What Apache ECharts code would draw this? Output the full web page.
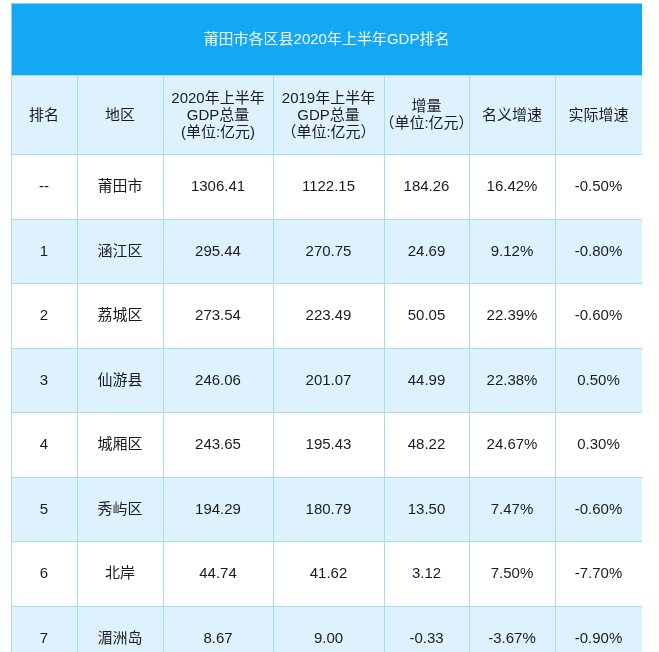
<!DOCTYPE html>
<html>
<head>
<meta charset="utf-8">
<script src="https://cdn.jsdelivr.net/npm/echarts@6/dist/echarts.min.js"></script>
<style>
  html, body { margin: 0; padding: 0; background: #fff; }
  #chart { width: 659px; height: 652px; }
</style>
</head>
<body>
<div id="chart"></div>
<script>
const title = '莆田市各区县2020年上半年GDP排名'
const headers = [
  '排名',
  '地区',
  '2020年上半年\nGDP总量\n(单位:亿元)',
  '2019年上半年\nGDP总量\n（单位:亿元）',
  '增量\n（单位:亿元）',
  '名义增速',
  '实际增速'
]
const ranks = ['--', '1', '2', '3', '4', '5', '6', '7']
const regions = ['莆田市', '涵江区', '荔城区', '仙游县', '城厢区', '秀屿区', '北岸', '湄洲岛']
const gdp2020 = [1306.41, 295.44, 273.54, 246.06, 243.65, 194.29, 44.74, 8.67]
const gdp2019 = [1122.15, 270.75, 223.49, 201.07, 195.43, 180.79, 41.62, 9.0]
const increase = [184.26, 24.69, 50.05, 44.99, 48.22, 13.5, 3.12, -0.33]
const nominalGrowth = [16.42, 9.12, 22.39, 22.38, 24.67, 7.47, 7.5, -3.67]
const realGrowth = [-0.5, -0.8, -0.6, 0.5, 0.3, -0.6, -7.7, -0.9]

// layout (table units = px inside the grid)
const colEdges = [0, 66, 152, 262, 373, 458, 544, 631]
const titleH = 72
const headerH = 79
const rowH = 64.5

function rowTop(r) {
  if (r === 0) return 0
  if (r === 1) return titleH
  return titleH + headerH + (r - 2) * rowH
}
function rowBottom(r) {
  if (r === 0) return titleH
  return rowTop(r) + (r === 1 ? headerH : rowH)
}

function cellText(c, r) {
  if (r === 0) return title
  if (r === 1) return headers[c]
  const i = r - 2
  switch (c) {
    case 0: return ranks[i]
    case 1: return regions[i]
    case 2: return gdp2020[i].toFixed(2)
    case 3: return gdp2019[i].toFixed(2)
    case 4: return increase[i].toFixed(2)
    case 5: return nominalGrowth[i].toFixed(2) + '%'
    default: return realGrowth[i].toFixed(2) + '%'
  }
}

const cells = [{ value: [-1, 0] }]
for (let r = 1; r < ranks.length + 2; r++) {
  for (let c = 0; c < headers.length; c++) cells.push({ value: [c, r] })
}

const FONT = '"Liberation Sans", "Noto Sans CJK SC", sans-serif'

function renderCell(params, api) {
  const c = api.value(0)
  const r = api.value(1)
  const x0 = c < 0 ? colEdges[0] : colEdges[c]
  const x1 = c < 0 ? colEdges[colEdges.length - 1] : colEdges[c + 1]
  const p0 = api.coord([x0, rowTop(r)])
  const p1 = api.coord([x1, rowBottom(r)])
  const w = p1[0] - p0[0]
  const h = p1[1] - p0[1]
  let fill = '#ffffff'
  if (r === 0) fill = '#14a8f4'
  else if (r === 1 || r % 2 === 1) fill = '#ddf2fd'
  return {
    type: 'group',
    children: [
      {
        type: 'rect',
        shape: { x: Math.round(p0[0]) + 0.5, y: Math.round(p0[1]) + 0.5, width: Math.round(w), height: Math.round(h) },
        style: { fill, stroke: r === 0 ? '#7fd0f5' : '#aadcf0', lineWidth: 1 }
      },
      {
        type: 'text',
        style: {
          text: cellText(c, r),
          x: p0[0] + w / 2,
          y: p0[1] + h / 2 + 1,
          align: 'center',
          verticalAlign: 'middle',
          fontSize: 15,
          lineHeight: 17,
          fontFamily: FONT,
          fill: r === 0 ? '#f4fbff' : '#1c1c1c'
        }
      }
    ]
  }
}

const chart = echarts.init(document.getElementById('chart'))
chart.setOption({
  animation: false,
  grid: { left: 11, top: 3, width: 631, height: 649 },
  xAxis: { type: 'value', min: 0, max: 631, show: false },
  yAxis: { type: 'value', min: 0, max: 649, inverse: true, show: false },
  series: [
    {
      type: 'custom',
      renderItem: renderCell,
      data: cells,
      clip: true
    }
  ]
})
</script>
</body>
</html>
